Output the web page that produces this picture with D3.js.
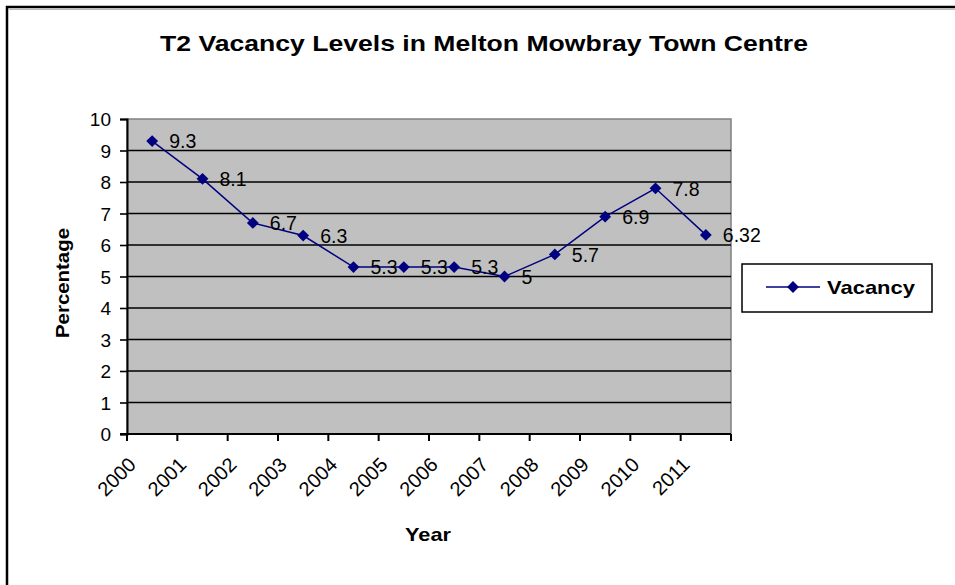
<!DOCTYPE html>
<meta charset="utf-8">
<style>
body { margin: 0; background: #fff; }
svg text { font-family: "Liberation Sans", Arial, Helvetica, sans-serif; fill: #000; }
</style>
<body>
<script src="https://d3js.org/d3.v7.min.js"></script>
<script>
var years = ["2000","2001","2002","2003","2004","2005","2006","2007","2008","2009","2010","2011"];
var vacancy = [9.3, 8.1, 6.7, 6.3, 5.3, 5.3, 5.3, 5, 5.7, 6.9, 7.8, 6.32];
var vacancyLabels = ["9.3","8.1","6.7","6.3","5.3","5.3","5.3","5","5.7","6.9","7.8","6.32"];
var yTicks = [0,1,2,3,4,5,6,7,8,9,10];
var seriesName = "Vacancy";

var w = 955, h = 585;
var plotL = 127, plotR = 731, plotT = 119, plotB = 434;
var navy = "#000080";
var fontFam = "'Liberation Sans', Arial, Helvetica, sans-serif";

var svg = d3.select("body").append("svg")
    .attr("width", w)
    .attr("height", h)
    .style("font-family", fontFam);

// outer chart border (right / bottom edges fall outside the picture)
svg.append("path")
    .attr("d", "M7,600 V7 H960")
    .attr("fill", "none")
    .attr("stroke", "#000")
    .attr("stroke-width", 2.5);
svg.append("line")
    .attr("x1", 9).attr("x2", 960).attr("y1", 9.5).attr("y2", 9.5)
    .attr("stroke", "#bbb").attr("stroke-width", 1);

var x = d3.scaleBand().domain(years).range([plotL, plotR]);
var y = d3.scaleLinear().domain([0, 10]).range([plotB, plotT]);
var cx = function(i){ return x(years[i]) + x.bandwidth() / 2; };

// plot area
svg.append("rect")
    .attr("x", plotL).attr("y", plotT)
    .attr("width", plotR - plotL).attr("height", plotB - plotT)
    .attr("fill", "#c0c0c0")
    .attr("stroke", "#808080")
    .attr("stroke-width", 1.5);

// gridlines
svg.append("g")
    .selectAll("line")
    .data(yTicks.filter(function(d){ return d > 0 && d < 10; }))
    .enter().append("line")
    .attr("x1", plotL).attr("x2", plotR)
    .attr("y1", function(d){ return y(d); })
    .attr("y2", function(d){ return y(d); })
    .attr("stroke", "#000")
    .attr("stroke-width", 1.6);

// y axis
var yAxis = svg.append("g")
    .attr("transform", "translate(" + plotL + ",0)")
    .call(d3.axisLeft(y).tickValues(yTicks).tickSize(7).tickPadding(9).tickFormat(d3.format("d")));
yAxis.attr("font-size", null).attr("font-family", null);
yAxis.select(".domain").attr("stroke", "#000").attr("stroke-width", 2);
yAxis.selectAll(".tick line").attr("stroke-width", 1.6);
yAxis.selectAll("text").style("font-size", "19px").attr("dy", "0.36em");

// x axis
var xAxis = svg.append("g")
    .attr("transform", "translate(0," + plotB + ")");
xAxis.append("line")
    .attr("x1", plotL - 7).attr("x2", plotR)
    .attr("stroke", "#000").attr("stroke-width", 2);
var bounds = years.map(function(d){ return x(d); }).concat([plotR]);
xAxis.selectAll(".xtick")
    .data(bounds)
    .enter().append("line")
    .attr("x1", function(d){ return d; }).attr("x2", function(d){ return d; })
    .attr("y1", 0).attr("y2", 7)
    .attr("stroke", "#000").attr("stroke-width", 2);
xAxis.selectAll(".xlabel")
    .data(years)
    .enter().append("text")
    .style("font-size", "20px")
    .attr("text-anchor", "end")
    .attr("transform", function(d, i){
        return "translate(" + (cx(i) - 15) + ",32) rotate(-45)";
    })
    .text(function(d){ return d; });

// title and axis titles
svg.append("text")
    .attr("x", 160).attr("y", 51)
    .attr("textLength", 648).attr("lengthAdjust", "spacingAndGlyphs")
    .style("font-size", "22px").style("font-weight", "bold")
    .text("T2 Vacancy Levels in Melton Mowbray Town Centre");
svg.append("text")
    .attr("text-anchor", "middle")
    .attr("transform", "translate(69,283) rotate(-90)")
    .attr("textLength", 110).attr("lengthAdjust", "spacingAndGlyphs")
    .style("font-size", "19px").style("font-weight", "bold")
    .text("Percentage");
svg.append("text")
    .attr("text-anchor", "middle")
    .attr("x", 428).attr("y", 541)
    .attr("textLength", 46).attr("lengthAdjust", "spacingAndGlyphs")
    .style("font-size", "19px").style("font-weight", "bold")
    .text("Year");

// series line
var line = d3.line()
    .x(function(d, i){ return cx(i); })
    .y(function(d){ return y(d); });
svg.append("path")
    .datum(vacancy)
    .attr("d", line)
    .attr("fill", "none")
    .attr("stroke", navy)
    .attr("stroke-width", 1.5);

var diamond = d3.symbol().type(d3.symbolSquare).size(70);
svg.append("g")
    .selectAll("path")
    .data(vacancy)
    .enter().append("path")
    .attr("d", diamond)
    .attr("fill", navy)
    .attr("transform", function(d, i){
        return "translate(" + cx(i) + "," + y(d) + ") rotate(45)";
    });

svg.append("g")
    .selectAll("text")
    .data(vacancy)
    .enter().append("text")
    .style("font-size", "19.5px")
    .attr("x", function(d, i){ return cx(i) + 17; })
    .attr("y", function(d){ return y(d); })
    .attr("dy", "0.37em")
    .text(function(d, i){ return vacancyLabels[i]; });

// legend
var lg = svg.append("g");
lg.append("rect")
    .attr("x", 742).attr("y", 264)
    .attr("width", 190).attr("height", 48)
    .attr("fill", "#fff").attr("stroke", "#000").attr("stroke-width", 1.5);
lg.append("line")
    .attr("x1", 766).attr("x2", 820).attr("y1", 287).attr("y2", 287)
    .attr("stroke", navy).attr("stroke-width", 1.5);
lg.append("path")
    .attr("d", diamond)
    .attr("fill", navy)
    .attr("transform", "translate(793,287) rotate(45)");
lg.append("text")
    .attr("x", 827).attr("y", 287)
    .attr("dy", "0.36em")
    .attr("textLength", 88).attr("lengthAdjust", "spacingAndGlyphs")
    .style("font-size", "19px").style("font-weight", "bold")
    .text(seriesName);
</script>
</body>
